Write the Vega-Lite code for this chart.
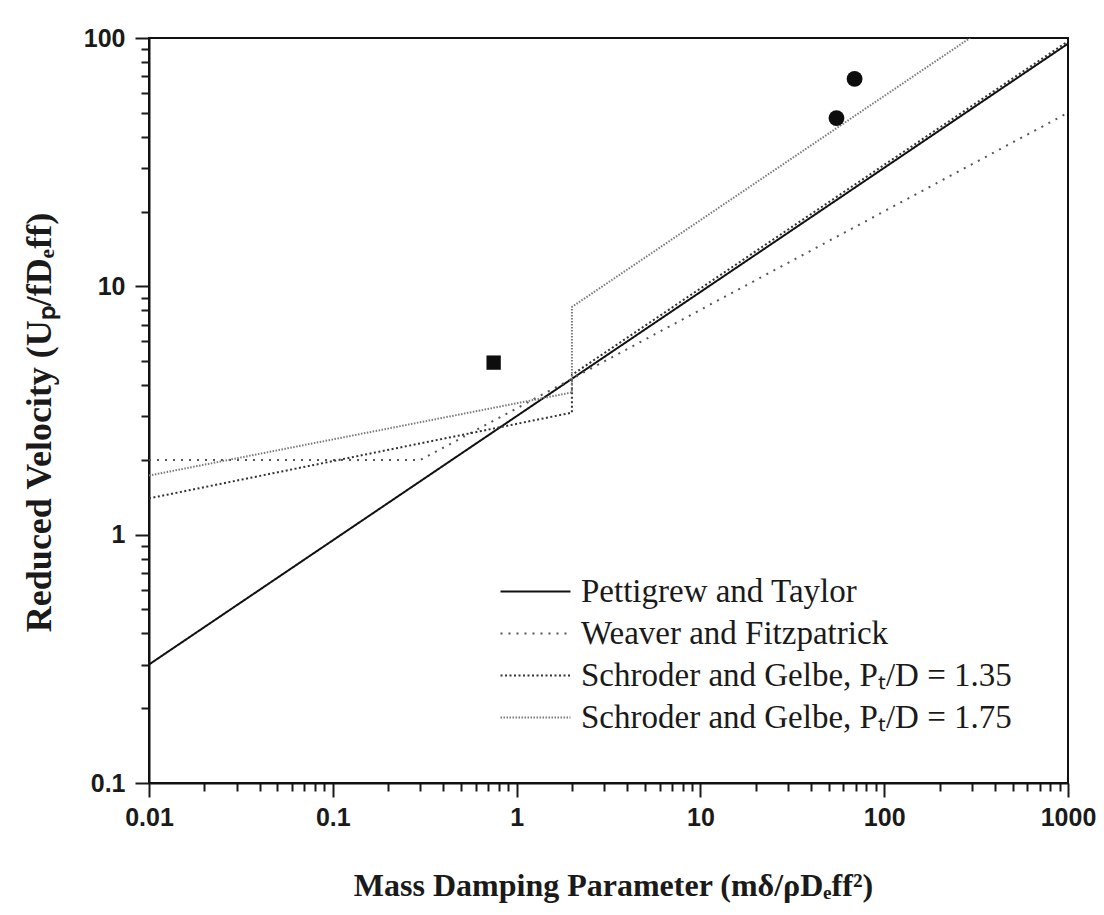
{
  "$schema": "https://vega.github.io/schema/vega-lite/v6.json",
  "width": 919,
  "height": 745,
  "autosize": {"type": "none"},
  "padding": {"left": 149, "top": 38, "right": 36, "bottom": 132},
  "background": "white",
  "config": {"view": {"stroke": "#111", "strokeWidth": 2}},
  "datasets": {
    "lines": [
      {"series": "Pettigrew and Taylor", "i": 1, "x": 0.01, "y": 0.3},
      {"series": "Pettigrew and Taylor", "i": 2, "x": 1000, "y": 94.9},
      {"series": "Weaver and Fitzpatrick", "i": 1, "x": 0.01, "y": 2.0},
      {"series": "Weaver and Fitzpatrick", "i": 2, "x": 0.3, "y": 2.0},
      {"series": "Weaver and Fitzpatrick", "i": 3, "x": 1000, "y": 50},
      {"series": "Schroder and Gelbe, Pₜ/D = 1.35", "i": 1, "x": 0.01, "y": 1.4},
      {"series": "Schroder and Gelbe, Pₜ/D = 1.35", "i": 2, "x": 2, "y": 3.1},
      {"series": "Schroder and Gelbe, Pₜ/D = 1.35", "i": 3, "x": 2, "y": 4.4},
      {"series": "Schroder and Gelbe, Pₜ/D = 1.35", "i": 4, "x": 1000, "y": 97},
      {"series": "Schroder and Gelbe, Pₜ/D = 1.75", "i": 1, "x": 0.01, "y": 1.73},
      {"series": "Schroder and Gelbe, Pₜ/D = 1.75", "i": 2, "x": 2, "y": 3.74},
      {"series": "Schroder and Gelbe, Pₜ/D = 1.75", "i": 3, "x": 2, "y": 8.26},
      {"series": "Schroder and Gelbe, Pₜ/D = 1.75", "i": 4, "x": 293, "y": 100}
    ],
    "points": [
      {"x": 0.75, "y": 4.93, "shape": "square"},
      {"x": 69, "y": 68.4, "shape": "circle"},
      {"x": 55, "y": 47.6, "shape": "circle"}
    ]
  },
  "layer": [
    {
      "data": {"name": "lines"},
      "mark": {"type": "line", "strokeWidth": 2, "clip": true},
      "encoding": {
        "x": {
          "field": "x", "type": "quantitative",
          "scale": {"type": "log", "domain": [0.01, 1000], "nice": false},
          "axis": {
            "values": [0.01,0.02,0.03,0.04,0.05,0.06,0.07,0.08,0.09,0.1,0.2,0.3,0.4,0.5,0.6,0.7,0.8,0.9,1,2,3,4,5,6,7,8,9,10,20,30,40,50,60,70,80,90,100,200,300,400,500,600,700,800,900,1000],
            "format": "~g",
            "labelExpr": "abs(log(datum.value)/LN10 - round(log(datum.value)/LN10)) < 0.001 ? datum.label : ''",
            "labelFont": "Liberation Sans", "labelFontWeight": "bold", "labelFontSize": 25, "labelColor": "#1a1a1a",
            "labelPadding": 8, "labelOverlap": false, "labelFlush": false,
            "tickSize": {"condition": {"test": "abs(log(datum.value)/LN10 - round(log(datum.value)/LN10)) < 0.001", "value": 14}, "value": 8},
            "tickWidth": 2, "tickColor": "#1a1a1a", "domainWidth": 2, "domainColor": "#111", "grid": false,
            "title": "Mass Damping Parameter (mδ/ρDₑff²)",
            "titleFont": "Liberation Serif", "titleFontSize": 32, "titleFontWeight": "bold", "titleColor": "#1a1a1a",
            "titleX": 464, "titleY": 112, "titleBaseline": "alphabetic", "titleAlign": "center"
          }
        },
        "y": {
          "field": "y", "type": "quantitative",
          "scale": {"type": "log", "domain": [0.1, 100], "nice": false},
          "axis": {
            "values": [0.1,0.2,0.3,0.4,0.5,0.6,0.7,0.8,0.9,1,2,3,4,5,6,7,8,9,10,20,30,40,50,60,70,80,90,100],
            "format": "~g",
            "labelExpr": "abs(log(datum.value)/LN10 - round(log(datum.value)/LN10)) < 0.001 ? datum.label : ''",
            "labelFont": "Liberation Sans", "labelFontWeight": "bold", "labelFontSize": 25, "labelColor": "#1a1a1a",
            "labelPadding": 10, "labelOverlap": false, "labelFlush": false,
            "tickSize": {"condition": {"test": "abs(log(datum.value)/LN10 - round(log(datum.value)/LN10)) < 0.001", "value": 14}, "value": 8},
            "tickWidth": 2, "tickColor": "#1a1a1a", "domainWidth": 2, "domainColor": "#111", "grid": false,
            "title": "Reduced Velocity (Uₚ/fDₑff)",
            "titleFont": "Liberation Serif", "titleFontSize": 36, "titleFontWeight": "bold", "titleColor": "#1a1a1a",
            "titleX": -110, "titleY": 384, "titleBaseline": "middle", "titleAlign": "center", "titleAngle": -90
          }
        },
        "order": {"field": "i", "type": "quantitative"},
        "color": {
          "field": "series", "type": "nominal",
          "scale": {
            "domain": ["Pettigrew and Taylor", "Weaver and Fitzpatrick", "Schroder and Gelbe, Pₜ/D = 1.35", "Schroder and Gelbe, Pₜ/D = 1.75"],
            "range": ["#111111", "#555555", "#333333", "#7a7a7a"]
          },
          "legend": {
            "title": null, "orient": "none", "legendX": 391, "legendY": 537,
            "symbolType": "M-4,0H1", "symbolSize": 784, "symbolStrokeWidth": 2, "symbolFillColor": "transparent",
            "labelFont": "Liberation Serif", "labelFontSize": 33, "labelColor": "#1a1a1a", "labelLimit": 600,
            "labelOffset": 8, "rowPadding": 8, "symbolOpacity": 1
          }
        },
        "strokeDash": {
          "field": "series", "type": "nominal",
          "scale": {
            "domain": ["Pettigrew and Taylor", "Weaver and Fitzpatrick", "Schroder and Gelbe, Pₜ/D = 1.35", "Schroder and Gelbe, Pₜ/D = 1.75"],
            "range": [[1, 0], [2, 6], [2, 2.5], [1.5, 1.5]]
          },
          "legend": {
            "title": null, "orient": "none", "legendX": 391, "legendY": 537,
            "symbolType": "M-4,0H1", "symbolSize": 784, "symbolStrokeWidth": 2, "symbolFillColor": "transparent",
            "labelFont": "Liberation Serif", "labelFontSize": 33, "labelColor": "#1a1a1a", "labelLimit": 600,
            "labelOffset": 8, "rowPadding": 8
          }
        }
      }
    },
    {
      "data": {"name": "points"},
      "mark": {"type": "point", "filled": true, "opacity": 1, "color": "#0d0d0d"},
      "encoding": {
        "x": {"field": "x", "type": "quantitative"},
        "y": {"field": "y", "type": "quantitative"},
        "shape": {
          "field": "shape", "type": "nominal",
          "scale": {"domain": ["square", "circle"], "range": ["square", "circle"]},
          "legend": null
        },
        "size": {
          "field": "shape", "type": "nominal",
          "scale": {"domain": ["square", "circle"], "range": [205, 250]},
          "legend": null
        }
      }
    }
  ]
}
